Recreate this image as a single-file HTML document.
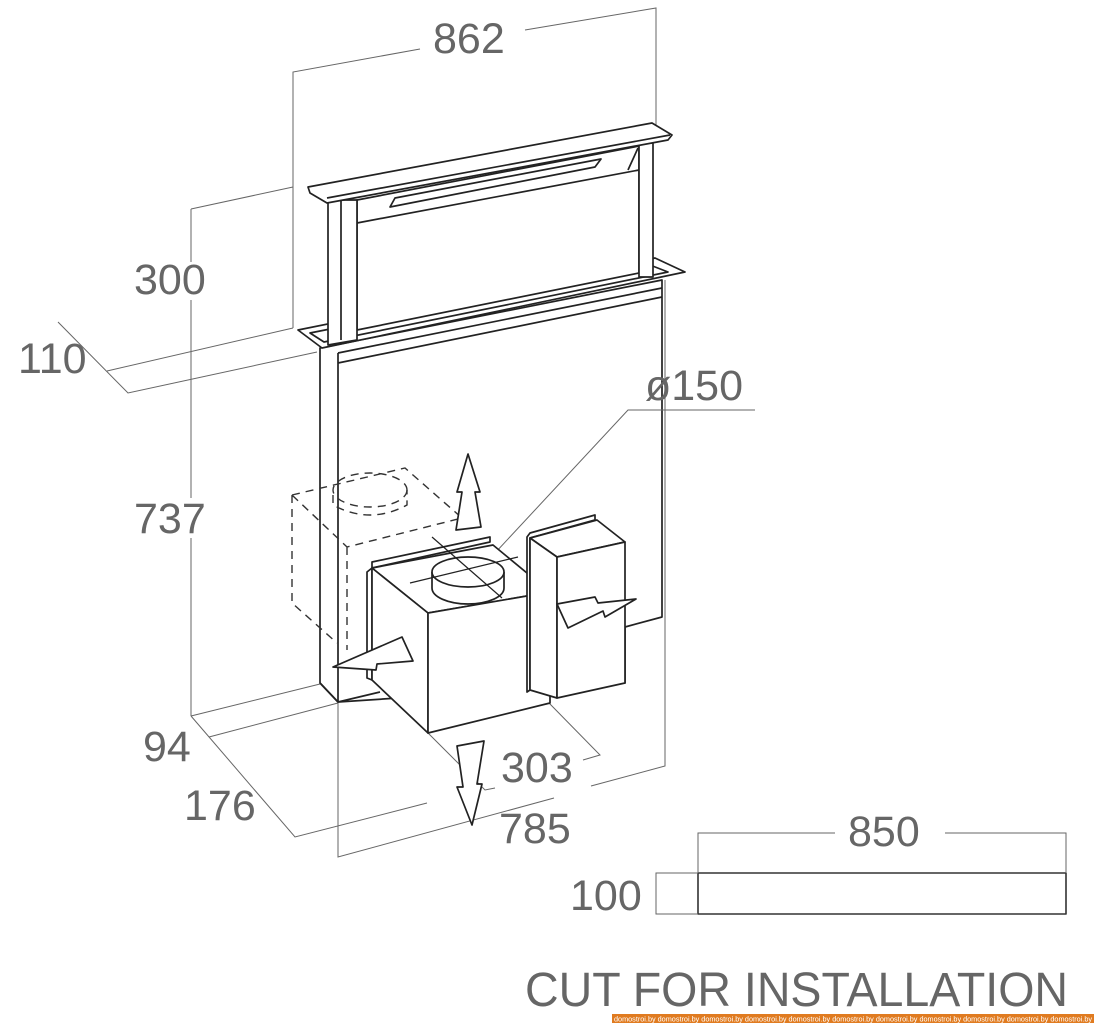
<!DOCTYPE html>
<html><head><meta charset="utf-8"><style>
html,body{margin:0;padding:0;background:#fff;}
svg{display:block;}
.o{fill:#fff;stroke:#222;stroke-width:1.7;stroke-linejoin:round;}
.n{fill:none;stroke:#222;stroke-width:1.7;stroke-linejoin:round;}
.d{fill:none;stroke:#666;stroke-width:1;}
.ds{fill:none;stroke:#333;stroke-width:1.4;stroke-dasharray:8,6;}
text{font-family:"Liberation Sans",sans-serif;fill:#666;}
</style></head><body>
<svg width="1094" height="1024" viewBox="0 0 1094 1024" xmlns="http://www.w3.org/2000/svg">
<path class="d" d="M293,328 V72 L420,49 M525,30 L656,8 V140"/>
<path class="d" d="M191,209 L293,187 M191,209 V262 M191,300 V498 M191,538 V716"/>
<path class="d" d="M58,322 L128,393 L317,352 M107,371 L293,328"/>
<path class="d" d="M191,716 L320,684 M209,737 L338,703 M191,716 L295,837 L427,803 M338,703 V857 L554,798 M591,786 L665,766 V280"/>
<path class="d" d="M549,703 L600,755 L583,760 M428,733 L485,790 L495,788"/>
<!-- body -->
<path class="o" d="M320,348 L662,280 V617 L625,627 V683 L338,702 L320,683 Z"/>
<path class="n" d="M338,353 V702 M338,353 L662,288 M338,363 L662,297 M338,702 L380,692 M320,683 L338,702"/>
<path class="d" d="M495,553 L628,410 H755"/>
<!-- frame -->
<path class="o" d="M298,330 L655,258 L685,272 L322,348 Z"/>
<path class="n" d="M310,333 L650,265 L668,272 L324,342 Z"/>
<path class="o" d="M357,200 L639,146 V273 L357,330 Z"/>
<path class="n" d="M357,223 L639,170 M628,170 L638,148"/>
<path class="o" d="M390,207 L395,198 L601,159 L595,167 Z"/>
<path class="o" d="M328,200 H357 V340 L328,345 Z"/>
<path class="n" d="M341,200 V340"/>
<path class="o" d="M639,143 H653 V277 H639 Z"/>
<path class="o" d="M308,187 L652,123 L672,135 L668,140 L327,203 L310,193 Z"/>
<path class="n" d="M327,198 L670,135"/>
<!-- dashed ghost -->
<path class="ds" d="M292,495 L405,468 L462,518 L347,547 Z M292,495 V603 L337,643 M347,547 V650"/>
<ellipse class="ds" cx="370" cy="490" rx="37" ry="17"/>
<path class="ds" d="M333,495 V505 Q370,525 407,505 V490"/>
<!-- main box -->
<path class="o" d="M367,572 L372,568 V680 L367,678 Z"/>
<path class="o" d="M372,562 L490,537 L490,542 L372,568 Z"/>
<path class="o" d="M372,568 L493,545 L550,592 L428,613 Z"/>
<path class="o" d="M372,568 L428,613 V733 L372,680 Z"/>
<path class="o" d="M428,613 L550,592 V703 L428,733 Z"/>
<path class="o" d="M432,572 V588 A36,16 0 0 0 504,588 V572"/>
<ellipse class="o" cx="468" cy="572" rx="36" ry="15"/>
<path class="n" d="M432,537 L502,598 M410,583 L518,557" style="stroke-width:1.2"/>
<!-- right small box -->
<path class="o" d="M527,537 L530,533 L595,515 L595,520 L530,538 V690 L527,692 Z"/>
<path class="o" d="M530,538 L597,520 L625,542 L557,557 Z"/>
<path class="o" d="M530,538 L557,557 V698 L530,690 Z"/>
<path class="o" d="M557,557 L625,542 V683 L557,698 Z"/>
<!-- arrows -->
<path class="o" d="M468,454 L457,492 L462,492 L456,530 L481,527 L475,492 L480,492 Z"/>
<path class="o" d="M457,746 L484,741 L477,784 L482,784 L472,825 L457,787 L463,787 Z"/>
<path class="o" d="M333,667 L402,637 L413,661 L377,664 L376,670 Z"/>
<path class="o" d="M557,604 L595,597 L598,603 L636,599 L605,617 L603,611 L568,628 Z"/>
<!-- cut -->
<rect x="698" y="873" width="368" height="41" class="n" style="stroke:#333;stroke-width:1.6"/>
<path class="d" d="M698,873 V833 H835 M945,833 H1066 V873 M698,873 H656 V914 H698"/>
<g font-size="43">
<text x="433" y="53">862</text>
<text x="134" y="294">300</text>
<text x="18" y="373">110</text>
<text x="134" y="533">737</text>
<text x="143" y="761">94</text>
<text x="184" y="820">176</text>
<text x="501" y="782">303</text>
<text x="499" y="843">785</text>
<text x="645" y="400">ø150</text>
<text x="848" y="846">850</text>
<text x="570" y="910">100</text>
</g>
<text x="525" y="1006" font-size="48" textLength="543" lengthAdjust="spacingAndGlyphs">CUT FOR INSTALLATION</text>
<rect x="612" y="1014" width="482" height="9" fill="#e07b20"/>
<text x="614" y="1021.5" font-size="7" style="fill:#fff" textLength="478" lengthAdjust="spacingAndGlyphs">domostroi.by  domostroi.by  domostroi.by  domostroi.by  domostroi.by  domostroi.by  domostroi.by  domostroi.by  domostroi.by  domostroi.by  domostroi.by</text>
</svg>
</body></html>
